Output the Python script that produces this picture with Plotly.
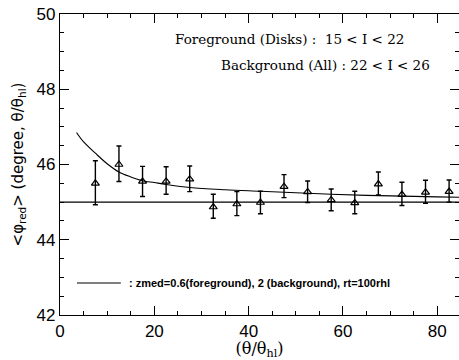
import plotly.graph_objects as go

# data points
theta = [7.5, 12.5, 17.5, 22.5, 27.5, 32.5, 37.5, 42.5, 47.5, 52.5, 57.5, 62.5, 67.5, 72.5, 77.5, 82.5]
phi = [45.50, 46.00, 45.55, 45.55, 45.61, 44.87, 44.95, 44.99, 45.41, 45.27, 45.06, 44.98, 45.48, 45.20, 45.26, 45.28]
err_hi = [46.10, 46.49, 45.95, 45.94, 45.96, 45.21, 45.28, 45.29, 45.73, 45.56, 45.35, 45.29, 45.80, 45.53, 45.58, 45.59]
err_lo = [44.93, 45.55, 45.15, 45.21, 45.28, 44.57, 44.64, 44.69, 45.12, 44.99, 44.77, 44.69, 45.19, 44.91, 44.97, 45.00]

# model curve
curve_x = [3.5, 5, 7.5, 10, 12.5, 15, 17.5, 20, 22.5, 27.5, 35, 42.5, 50, 57.5, 65, 72.5, 80, 84.6]
curve_y = [46.85, 46.6, 46.30, 46.02, 45.80, 45.67, 45.57, 45.52, 45.47, 45.39, 45.33, 45.29, 45.25, 45.21, 45.18, 45.16, 45.14, 45.13]

ref_x = [0, 84.6]
ref_y = [45, 45]

legend_x = [3.6, 12.9]
legend_y = [42.85, 42.85]

up = [h - p for h, p in zip(err_hi, phi)]
dn = [p - l for p, l in zip(phi, err_lo)]

fig = go.Figure()
fig.add_trace(go.Scatter(x=ref_x, y=ref_y, mode="lines", line=dict(color="black", width=1.3), hoverinfo="skip"))
fig.add_trace(go.Scatter(x=curve_x, y=curve_y, mode="lines", line=dict(color="black", width=1.1, shape="spline"), hoverinfo="skip"))
fig.add_trace(go.Scatter(
    x=theta, y=phi, mode="markers",
    marker=dict(symbol="triangle-up-open", size=7, color="black", line=dict(width=1.2)),
    error_y=dict(type="data", symmetric=False, array=up, arrayminus=dn, color="black", thickness=1.4, width=2.5),
))
fig.add_trace(go.Scatter(x=legend_x, y=legend_y, mode="lines", line=dict(color="black", width=1.1), hoverinfo="skip"))

fig.add_annotation(x=14.2, y=42.85, xref="x", yref="y", xanchor="left", yanchor="middle", showarrow=False,
                   text="<b>: zmed=0.6(foreground), 2 (background), rt=100rhl</b>",
                   font=dict(family="Liberation Sans", size=11, color="black"))
fig.add_annotation(x=(406 - 60) / 399, y=(360 - 45 - 39) / 301, xref="paper", yref="paper", xanchor="right", yanchor="middle",
                   showarrow=False, text="Foreground (Disks) :  15 &lt; I &lt; 22",
                   font=dict(family="DejaVu Serif", size=13.5, color="black"))
fig.add_annotation(x=(432 - 60) / 399, y=(360 - 45 - 65) / 301, xref="paper", yref="paper", xanchor="right", yanchor="middle",
                   showarrow=False, text="Background (All) : 22 &lt; I &lt; 26",
                   font=dict(family="DejaVu Serif", size=13.5, color="black"))

axis_common = dict(showline=True, linecolor="black", linewidth=1.3, mirror="ticks", ticks="inside",
                   tickcolor="black", tickwidth=1, showgrid=False, zeroline=False,
                   tickfont=dict(family="Liberation Sans", size=17, color="black"))

fig.update_xaxes(range=[0, 84.6], tickvals=[0, 20, 40, 60, 80], ticklen=9,
                 minor=dict(dtick=5, ticklen=4, ticks="inside", tickcolor="black", showgrid=False),
                 title=dict(text="(θ/θ<sub>hl</sub>)", font=dict(family="DejaVu Serif", size=16, color="black"), standoff=2),
                 **axis_common)
fig.update_yaxes(range=[42, 50], tickvals=[42, 44, 46, 48, 50], ticklen=9,
                 minor=dict(dtick=0.5, ticklen=4, ticks="inside", tickcolor="black", showgrid=False),
                 title=dict(text="&lt;φ<sub>red</sub>&gt; (degree, θ/θ<sub>hl</sub>)", font=dict(family="DejaVu Sans", size=15, color="black"), standoff=9),
                 **axis_common)

fig.update_layout(width=459, height=360, margin=dict(l=60, r=0, t=14, b=45),
                  plot_bgcolor="white", paper_bgcolor="white", showlegend=False)

fig.write_html("out.html")
